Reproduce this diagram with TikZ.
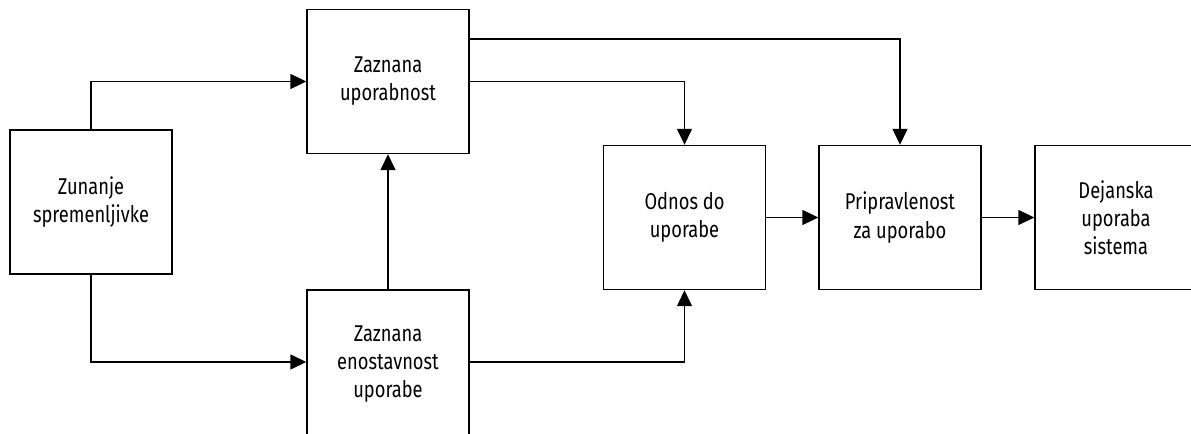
\documentclass[tikz,border=0pt]{standalone}
\usepackage{fontspec}
\setmainfont{Fira Sans}[FakeStretch=0.8]
\usetikzlibrary{arrows.meta}
\tikzset{block/.style={rectangle,draw,line width=0.8pt,minimum width=3.24cm,minimum height=2.88cm,
    inner sep=0pt,align=center,font=\fontsize{13}{16}\selectfont}}

\begin{document}
\begin{tikzpicture}[line width=0.8pt,>={Triangle[length=3.2mm,width=3mm]}]
      \useasboundingbox (0,0) rectangle (23.82,8.66);
      \node[block] (zun) at (1.82,4.62) {Zunanje\\spremenljivke};
      \node[block] (upo) at (7.76,7.03) {Zaznana\\uporabnost};
      \node[block,minimum height=2.96cm] (eno) at (7.76,1.38) {Zaznana\\enostavnost\\uporabe};
      \node[block] (odn) at (13.69,4.31) {Odnos do\\uporabe};
      \node[block] (pri) at (18.00,4.31) {Pripravlenost\\za uporabo};
      \node[block] (dej) at (22.32,4.31) {Dejanska\\uporaba\\sistema};
      \coordinate (upoout) at ([yshift=0.85cm]upo.east);

      \draw[->] (zun.north) |- (upo.west);
      \draw[->] (zun.south) |- ([yshift=0.04cm]eno.west);
      \draw[->] (eno.north) -- (upo.south);
      \draw[->] (upo.east) -| (odn.north);
      \draw[->] (upoout) -| (pri.north);
      \draw[->] ([yshift=0.04cm]eno.east) -| (odn.south);
      \draw[->] (odn.east) -- (pri.west);
      \draw[->] (pri.east) -- (dej.west);
    \end{tikzpicture}
\end{document}
